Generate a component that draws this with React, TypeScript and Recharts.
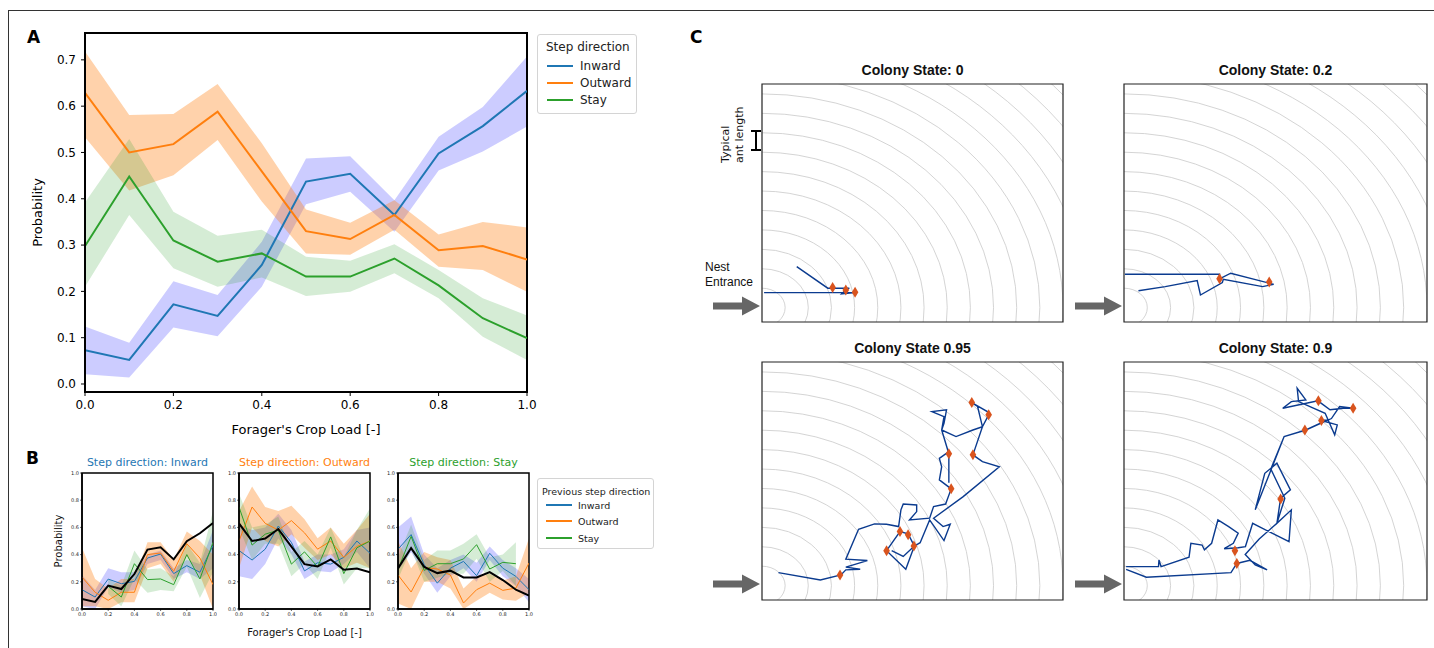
import {
  Area,
  ComposedChart,
  Legend,
  Line,
  ReferenceArea,
  Scatter,
  ScatterChart,
  XAxis,
  YAxis,
} from "recharts";

// ---- panel A: step direction vs crop load ----
const cropLoad = [0, 0.1, 0.2, 0.3, 0.4, 0.5, 0.6, 0.7, 0.8, 0.9, 1.0];
const loadTicks = [0, 0.2, 0.4, 0.6, 0.8, 1.0];
const probTicksA = [0, 0.1, 0.2, 0.3, 0.4, 0.5, 0.6, 0.7];
const probTicksB = [0, 0.2, 0.4, 0.6, 0.8, 1.0];

const inwardMean = [0.073, 0.052, 0.172, 0.147, 0.257, 0.437, 0.454, 0.365, 0.498, 0.557, 0.633];
const inwardLow = [0.021, 0.014, 0.122, 0.103, 0.21, 0.388, 0.415, 0.329, 0.461, 0.502, 0.556];
const inwardHigh = [0.124, 0.089, 0.222, 0.192, 0.307, 0.487, 0.492, 0.397, 0.534, 0.598, 0.707];
const outwardMean = [0.629, 0.5, 0.518, 0.588, 0.459, 0.33, 0.313, 0.365, 0.289, 0.298, 0.269];
const outwardLow = [0.533, 0.418, 0.451, 0.527, 0.394, 0.282, 0.279, 0.333, 0.253, 0.246, 0.199];
const outwardHigh = [0.718, 0.581, 0.583, 0.648, 0.52, 0.377, 0.348, 0.397, 0.323, 0.35, 0.338];
const stayMean = [0.298, 0.448, 0.31, 0.264, 0.282, 0.232, 0.232, 0.271, 0.213, 0.142, 0.099];
const stayLow = [0.21, 0.365, 0.25, 0.21, 0.23, 0.19, 0.199, 0.239, 0.185, 0.102, 0.052];
const stayHigh = [0.392, 0.529, 0.372, 0.32, 0.333, 0.275, 0.266, 0.302, 0.246, 0.185, 0.148];

// ---- panel B: split by previous step direction ----
const inPrevInMean = [0.142, 0.088, 0.22, 0.186, 0.203, 0.375, 0.404, 0.26, 0.319, 0.27, 0.466];
const inPrevInLow = [0.02, 0.0, 0.16, 0.12, 0.14, 0.33, 0.36, 0.22, 0.27, 0.22, 0.3];
const inPrevInHigh = [0.25, 0.14, 0.3, 0.27, 0.27, 0.4, 0.43, 0.3, 0.36, 0.33, 0.58];
const inPrevOutMean = [0.235, 0.123, 0.064, 0.123, 0.123, 0.4, 0.412, 0.277, 0.48, 0.375, 0.179];
const inPrevOutLow = [0.02, 0.02, 0.0, 0.05, 0.05, 0.3, 0.33, 0.2, 0.39, 0.25, 0.0];
const inPrevOutHigh = [0.45, 0.22, 0.15, 0.22, 0.22, 0.49, 0.49, 0.36, 0.57, 0.5, 0.4];
const inPrevStayMean = [null, null, 0.167, 0.088, 0.333, 0.216, 0.221, 0.179, 0.4, 0.221, 0.49];
const inPrevStayLow = [null, null, 0.11, 0.02, 0.22, 0.12, 0.14, 0.13, 0.31, 0.08, 0.27];
const inPrevStayHigh = [null, null, 0.22, 0.17, 0.43, 0.29, 0.3, 0.24, 0.48, 0.34, 0.72];

const outPrevInMean = [0.43, 0.36, 0.44, 0.61, 0.49, 0.28, 0.34, 0.33, 0.38, 0.5, 0.41];
const outPrevInLow = [0.24, 0.22, 0.33, 0.52, 0.4, 0.22, 0.28, 0.27, 0.33, 0.42, 0.3];
const outPrevInHigh = [0.62, 0.58, 0.6, 0.7, 0.58, 0.35, 0.4, 0.4, 0.44, 0.58, 0.6];
const outPrevOutMean = [0.5, 0.75, 0.63, 0.58, 0.65, 0.56, 0.44, 0.5, 0.38, 0.46, 0.5];
const outPrevOutLow = [0.3, 0.6, 0.5, 0.46, 0.55, 0.45, 0.36, 0.4, 0.3, 0.34, 0.3];
const outPrevOutHigh = [0.72, 0.9, 0.75, 0.72, 0.76, 0.66, 0.52, 0.6, 0.48, 0.58, 0.7];
const outPrevStayMean = [0.75, 0.47, 0.55, 0.58, 0.33, 0.42, 0.31, 0.53, 0.26, 0.45, 0.5];
const outPrevStayLow = [0.6, 0.36, 0.48, 0.48, 0.24, 0.33, 0.22, 0.45, 0.18, 0.3, 0.3];
const outPrevStayHigh = [0.85, 0.6, 0.62, 0.68, 0.42, 0.5, 0.4, 0.6, 0.38, 0.58, 0.74];

const stayPrevInMean = [0.44, 0.547, 0.326, 0.19, 0.3, 0.35, 0.245, 0.41, 0.3, 0.24, 0.142];
const stayPrevInLow = [0.28, 0.42, 0.26, 0.12, 0.24, 0.3, 0.2, 0.36, 0.24, 0.17, 0.05];
const stayPrevInHigh = [0.6, 0.68, 0.4, 0.3, 0.36, 0.4, 0.34, 0.46, 0.36, 0.3, 0.22];
const stayPrevOutMean = [0.25, 0.125, 0.306, 0.294, 0.25, 0.044, 0.142, 0.19, 0.137, 0.154, 0.338];
const stayPrevOutLow = [0.04, 0.0, 0.2, 0.2, 0.15, 0.0, 0.06, 0.12, 0.07, 0.06, 0.12];
const stayPrevOutHigh = [0.5, 0.3, 0.42, 0.38, 0.36, 0.15, 0.24, 0.26, 0.21, 0.24, 0.52];
const stayPrevStayMean = [0.29, 0.534, 0.284, 0.333, 0.333, 0.368, 0.473, 0.294, 0.343, 0.333, null];
const stayPrevStayLow = [0.22, 0.44, 0.2, 0.23, 0.26, 0.26, 0.37, 0.2, 0.28, 0.17, null];
const stayPrevStayHigh = [0.38, 0.62, 0.36, 0.43, 0.43, 0.48, 0.55, 0.38, 0.4, 0.49, null];

// ---- panel C: trajectories, in ant lengths from the nest entrance ----
const ringRadii = [1, 2, 3, 4, 5, 6, 7, 8, 9, 10, 11, 12, 13, 14, 15, 16, 17];

const trackState0 = [[0.09, 0.77], [4.02, 0.77], [3.44, 0.71], [3.62, 0.91], [3.77, 1.0], [2.84, 1.0], [1.5, 2.11]];
const marksState0 = [[3.05, 1.03], [3.62, 0.91], [4.02, 0.79]];

const trackState02 = [
  [0.04, 1.72], [4.1, 1.72], [4.1, 1.48], [4.58, 1.77], [6.42, 1.2], [5.95, 1.08], [4.26, 1.46],
  [4.22, 1.29], [3.28, 0.65], [3.14, 1.39], [1.77, 1.08], [0.62, 0.87],
];
const marksState02 = [[4.1, 1.48], [6.23, 1.32]];

const trackState095 = [
  [0.71, 0.67], [2.52, 0.29], [3.41, 0.55], [3.62, 0.81], [4.24, 0.84], [3.62, 0.95], [4.55, 1.29],
  [3.62, 1.36], [4.17, 2.9], [4.86, 3.18], [5.38, 3.16], [5.9, 3.04], [6.0, 3.9], [6.1, 4.2],
  [6.68, 4.15], [6.68, 3.81], [6.37, 3.38], [7.24, 3.47], [7.41, 4.07], [7.93, 4.2], [8.17, 4.98],
  [7.66, 5.44], [7.76, 6.12], [7.66, 6.55], [8.07, 6.9], [8.07, 5.3], [8.07, 6.79], [7.76, 8.01],
  [7.86, 8.36], [7.97, 9.05], [7.34, 8.96], [7.86, 8.7], [7.76, 8.01], [8.38, 7.67], [9.11, 8.01],
  [9.52, 8.18], [9.31, 9.22], [9.06, 9.42], [9.73, 8.96], [9.79, 8.79], [9.52, 8.18], [9.11, 6.73],
  [9.52, 6.38], [10.25, 6.12], [8.69, 4.58], [7.41, 3.47], [7.82, 3.04], [8.13, 3.16], [7.86, 2.32],
  [7.24, 3.38], [6.83, 2.21], [6.58, 2.04], [6.31, 2.66], [5.96, 2.78], [5.38, 1.8], [6.21, 0.84],
  [6.58, 2.04], [6.1, 1.5], [5.6, 1.8],
];
const marksState095 = [
  [3.37, 0.55], [5.38, 1.8], [5.96, 2.78], [6.31, 2.62], [6.56, 2.04], [8.17, 4.98],
  [8.07, 6.79], [9.11, 6.73], [9.06, 9.42], [9.79, 8.79],
];

const trackState09 = [
  [0.09, 0.98], [1.48, 0.98], [1.5, 1.32], [1.59, 0.98], [2.79, 1.46], [2.87, 2.18], [3.35, 2.09],
  [3.45, 1.84], [3.76, 2.18], [4.03, 3.38], [4.49, 3.04], [4.9, 2.7], [4.69, 2.18], [4.3, 1.9],
  [4.9, 1.95], [5.21, 2.01], [5.52, 3.21], [6.35, 2.7], [7.08, 2.26], [7.18, 3.9], [6.56, 3.21],
  [6.72, 4.5], [7.14, 4.93], [6.56, 6.3], [6.04, 5.78], [5.63, 3.9], [6.39, 6.21], [6.87, 7.67],
  [7.8, 8.01], [8.73, 8.53], [8.47, 8.5], [9.15, 8.27], [9.04, 7.76], [8.63, 8.87], [7.49, 9.47],
  [7.43, 10.16], [7.8, 9.56], [7.18, 9.47], [6.81, 9.13], [8.32, 9.51], [8.84, 9.05], [9.42, 9.13],
  [9.83, 9.13], [9.25, 9.22], [8.9, 8.6], [7.8, 8.01], [6.87, 7.67], [6.3, 6.0], [6.9, 4.5],
  [6.56, 3.21], [5.8, 2.4], [5.2, 1.6], [5.63, 1.06], [6.14, 0.81], [5.4, 1.3], [4.84, 1.14],
  [4.59, 0.67], [0.96, 0.43], [0.09, 0.84],
];
const marksState09 = [[4.76, 1.8], [4.84, 1.14], [6.72, 4.46], [7.76, 8.01], [8.47, 8.5], [8.34, 9.51], [9.83, 9.13]];

const SANS = "'DejaVu Sans', sans-serif";
const NARROW = "'Liberation Sans Narrow', 'Liberation Sans', Arial, sans-serif";
const BLUE = "#1f77b4";
const ORANGE = "#ff7f0e";
const GREEN = "#2ca02c";
const TRACK = "#0b3b8f";
const MARK = "#d9541e";

const stepItems = [
  { label: "Inward", color: BLUE },
  { label: "Outward", color: ORANGE },
  { label: "Stay", color: GREEN },
];

function Caption({ x, y, text, size, color = "#000", weight = 400, family = SANS, anchor = "middle" }: any) {
  return (
    <div
      style={{
        position: "absolute",
        left: x,
        top: y,
        transform: `translate(${anchor === "middle" ? "-50%" : "0"}, -50%)`,
        fontSize: size,
        fontWeight: weight,
        fontFamily: family,
        color,
        lineHeight: 1,
        whiteSpace: "nowrap",
      }}
    >
      {text}
    </div>
  );
}

function LegendBox({ title, w, h, fs, titleY, titleX, rowsY, lineX, textX }: any) {
  return (
    <div
      style={{
        position: "relative",
        width: w,
        height: h,
        background: "#fff",
        border: "1px solid #d4d4d4",
        borderRadius: 3,
        boxSizing: "border-box",
        fontFamily: SANS,
        fontSize: fs,
        color: "#222",
      }}
    >
      <div style={{ position: "absolute", left: titleX, top: titleY, transform: "translateY(-50%)", whiteSpace: "nowrap" }}>
        {title}
      </div>
      {stepItems.map((it, i) => (
        <div key={it.label}>
          <div style={{ position: "absolute", left: lineX, top: rowsY[i] - 1, width: 26, height: 2, background: it.color }} />
          <div style={{ position: "absolute", left: textX, top: rowsY[i], transform: "translateY(-50%)", whiteSpace: "nowrap" }}>
            {it.label}
          </div>
        </div>
      ))}
    </div>
  );
}

const aDomain: [number, number] = [-0.0173, 0.758];

function PanelA() {
  const rows = cropLoad.map((x, i) => ({
    x,
    inward: inwardMean[i],
    inwardBand: [inwardLow[i], inwardHigh[i]],
    outward: outwardMean[i],
    outwardBand: [outwardLow[i], outwardHigh[i]],
    stay: stayMean[i],
    stayBand: [stayLow[i], stayHigh[i]],
  }));
  const tick = { fill: "#000", fontSize: 12, fontFamily: SANS };
  return (
    <div style={{ position: "absolute", left: 20, top: 23 }}>
      <ComposedChart width={630} height={420} data={rows} margin={{ top: 10, right: 123, bottom: 6, left: 15 }}>
        <XAxis
          dataKey="x"
          type="number"
          domain={[0, 1]}
          allowDataOverflow
          ticks={loadTicks}
          tickFormatter={(v) => Number(v).toFixed(1)}
          tick={tick}
          tickSize={4}
          tickMargin={4}
          height={45}
          axisLine={{ stroke: "#000", strokeWidth: 2 }}
          tickLine={{ stroke: "#000" }}
          label={{ value: "Forager's Crop Load [-]", position: "insideBottom", offset: 3, fill: "#000", fontSize: 13, fontFamily: SANS }}
        />
        <YAxis
          type="number"
          domain={aDomain}
          allowDataOverflow
          ticks={probTicksA}
          tickFormatter={(v) => Number(v).toFixed(1)}
          tick={tick}
          tickSize={4}
          tickMargin={5}
          width={50}
          axisLine={{ stroke: "#000", strokeWidth: 2 }}
          tickLine={{ stroke: "#000" }}
          label={{ value: "Probability", angle: -90, position: "insideLeft", offset: 2, fill: "#000", fontSize: 13, fontFamily: SANS, style: { textAnchor: "middle" } }}
        />
        <Area type="linear" dataKey="inwardBand" fill="#0000ff" fillOpacity={0.2} stroke="none" isAnimationActive={false} />
        <Area type="linear" dataKey="outwardBand" fill={ORANGE} fillOpacity={0.35} stroke="none" isAnimationActive={false} />
        <Area type="linear" dataKey="stayBand" fill={GREEN} fillOpacity={0.2} stroke="none" isAnimationActive={false} />
        <Line type="linear" dataKey="inward" stroke={BLUE} strokeWidth={2} dot={false} isAnimationActive={false} />
        <Line type="linear" dataKey="outward" stroke={ORANGE} strokeWidth={2} dot={false} isAnimationActive={false} />
        <Line type="linear" dataKey="stay" stroke={GREEN} strokeWidth={2} dot={false} isAnimationActive={false} />
        <ReferenceArea x1={0} x2={1} y1={aDomain[0]} y2={aDomain[1]} fill="none" stroke="#000" strokeWidth={2} ifOverflow="visible" />
        <Legend
          verticalAlign="middle"
          layout="horizontal"
          wrapperStyle={{ left: 517, top: 11, width: 100, height: 80 }}
          content={() => (
            <LegendBox title="Step direction" w={100} h={80} fs={12} titleX={8} titleY={12} rowsY={[31, 48, 65]} lineX={9} textX={42} />
          )}
        />
      </ComposedChart>
    </div>
  );
}

function bandOf(lo: any[], hi: any[], i: number) {
  return lo[i] == null ? null : [lo[i], hi[i]];
}

function makeRows(overall: number[], m: any[][]) {
  return cropLoad.map((x, i) => ({
    x,
    overall: overall[i],
    prevIn: m[0][i],
    prevInBand: bandOf(m[1], m[2], i),
    prevOut: m[3][i],
    prevOutBand: bandOf(m[4], m[5], i),
    prevStay: m[6][i],
    prevStayBand: bandOf(m[7], m[8], i),
  }));
}

const bPanels = [
  {
    title: "Step direction: Inward",
    color: BLUE,
    plotLeft: 82,
    rows: makeRows(inwardMean, [inPrevInMean, inPrevInLow, inPrevInHigh, inPrevOutMean, inPrevOutLow, inPrevOutHigh, inPrevStayMean, inPrevStayLow, inPrevStayHigh]),
  },
  {
    title: "Step direction: Outward",
    color: ORANGE,
    plotLeft: 239,
    rows: makeRows(outwardMean, [outPrevInMean, outPrevInLow, outPrevInHigh, outPrevOutMean, outPrevOutLow, outPrevOutHigh, outPrevStayMean, outPrevStayLow, outPrevStayHigh]),
  },
  {
    title: "Step direction: Stay",
    color: GREEN,
    plotLeft: 398,
    rows: makeRows(stayMean, [stayPrevInMean, stayPrevInLow, stayPrevInHigh, stayPrevOutMean, stayPrevOutLow, stayPrevOutHigh, stayPrevStayMean, stayPrevStayLow, stayPrevStayHigh]),
  },
];

function SmallPanel({ p, idx }: any) {
  const plotW = 131;
  const plotH = 136;
  const plotTop = 473;
  const ml = idx === 0 ? 30 : 0;
  const mr = idx === 2 ? 130 : 4;
  const yw = 22;
  const tick = { fill: "#222", fontSize: 5, fontFamily: SANS };
  return (
    <>
      <Caption x={p.plotLeft + plotW / 2} y={462} text={p.title} size={11} color={p.color} />
      <div style={{ position: "absolute", left: p.plotLeft - yw - ml, top: plotTop - 4 }}>
        <ComposedChart width={ml + yw + plotW + mr} height={plotH + 4 + 30} data={p.rows} margin={{ top: 4, right: mr, bottom: 0, left: ml }}>
          <XAxis
            dataKey="x"
            type="number"
            domain={[0, 1]}
            allowDataOverflow
            ticks={loadTicks}
            tickFormatter={(v) => Number(v).toFixed(1)}
            tick={tick}
            tickSize={2}
            tickMargin={1}
            height={30}
            axisLine={{ stroke: "#000", strokeWidth: 1.5 }}
            tickLine={{ stroke: "#000", strokeWidth: 0.6 }}
            label={idx === 1 ? { value: "Forager's Crop Load [-]", position: "insideBottom", offset: 3, fill: "#111", fontSize: 10, fontFamily: SANS } : undefined}
          />
          <YAxis
            type="number"
            domain={[0, 1]}
            allowDataOverflow
            ticks={probTicksB}
            tickFormatter={(v) => Number(v).toFixed(1)}
            tick={tick}
            tickSize={2}
            tickMargin={1}
            width={yw}
            axisLine={{ stroke: "#000", strokeWidth: 1.5 }}
            tickLine={{ stroke: "#000", strokeWidth: 0.6 }}
            label={idx === 0 ? { value: "Probability", angle: -90, position: "insideLeft", offset: -2, fill: "#111", fontSize: 10, fontFamily: SANS, style: { textAnchor: "middle" } } : undefined}
          />
          <Area type="linear" dataKey="prevInBand" fill="#0000ff" fillOpacity={0.2} stroke="none" isAnimationActive={false} />
          <Area type="linear" dataKey="prevOutBand" fill={ORANGE} fillOpacity={0.35} stroke="none" isAnimationActive={false} />
          <Area type="linear" dataKey="prevStayBand" fill={GREEN} fillOpacity={0.2} stroke="none" isAnimationActive={false} />
          <Line type="linear" dataKey="prevIn" stroke={BLUE} strokeWidth={1} dot={false} isAnimationActive={false} />
          <Line type="linear" dataKey="prevOut" stroke={ORANGE} strokeWidth={1} dot={false} isAnimationActive={false} />
          <Line type="linear" dataKey="prevStay" stroke={GREEN} strokeWidth={1} dot={false} isAnimationActive={false} />
          <Line type="linear" dataKey="overall" stroke="#000" strokeWidth={2} dot={false} isAnimationActive={false} />
          <ReferenceArea x1={0} x2={1} y1={0} y2={1} fill="none" stroke="#000" strokeWidth={1.5} ifOverflow="visible" />
          {idx === 2 && (
            <Legend
              verticalAlign="middle"
              layout="horizontal"
              wrapperStyle={{ left: 161, top: 9, width: 117, height: 71 }}
              content={() => (
                <LegendBox title="Previous step direction" w={117} h={71} fs={9.5} titleX={4} titleY={11.5} rowsY={[25.5, 42, 58.5]} lineX={8} textX={40} />
              )}
            />
          )}
        </ComposedChart>
      </div>
    </>
  );
}

const cXDomain: [number, number] = [0, 13];
const cYDomain: [number, number] = [-0.74, 11.51];

const ringShape = (p: any) => (
  <ellipse
    cx={p.x + p.width / 2}
    cy={p.y + p.height / 2}
    rx={Math.abs(p.width) / 2}
    ry={Math.abs(p.height) / 2}
    fill="none"
    stroke="#c9c9c9"
    strokeWidth={0.8}
    clipPath={p.clipPath}
  />
);

const noDot = () => <g />;

const diamond = (p: any) => (
  <polygon
    points={`${p.cx},${p.cy - 5.5} ${p.cx + 3.3},${p.cy} ${p.cx},${p.cy + 5.5} ${p.cx - 3.3},${p.cy}`}
    fill={MARK}
  />
);

const cPanels = [
  { title: "Colony State: 0", left: 762, top: 84, width: 301, track: trackState0, marks: marksState0 },
  { title: "Colony State: 0.2", left: 1124, top: 84, width: 303, track: trackState02, marks: marksState02 },
  { title: "Colony State 0.95", left: 762, top: 362, width: 301, track: trackState095, marks: marksState095 },
  { title: "Colony State: 0.9", left: 1124, top: 362, width: 303, track: trackState09, marks: marksState09 },
];

function TrackPanel({ p }: any) {
  const height = 238;
  const toPts = (arr: number[][]) => arr.map(([x, y]) => ({ x, y }));
  return (
    <>
      <Caption x={p.left + p.width / 2} y={p.top - 14} text={p.title} size={14} weight={700} family={NARROW} color="#111" />
      <div style={{ position: "absolute", left: p.left - 1, top: p.top - 1 }}>
        <ScatterChart width={p.width + 2} height={height + 2} margin={{ top: 1, right: 1, bottom: 1, left: 1 }}>
          <XAxis type="number" dataKey="x" domain={cXDomain} allowDataOverflow hide />
          <YAxis type="number" dataKey="y" domain={cYDomain} allowDataOverflow hide />
          {ringRadii.map((r) => (
            <ReferenceArea key={r} x1={-r} x2={r} y1={-r} y2={r} ifOverflow="hidden" shape={ringShape} />
          ))}
          <Scatter data={toPts(p.track)} line={{ stroke: TRACK, strokeWidth: 1.4 }} lineType="joint" shape={noDot} isAnimationActive={false} />
          <Scatter data={toPts(p.marks)} shape={diamond} isAnimationActive={false} />
          <ReferenceArea x1={cXDomain[0]} x2={cXDomain[1]} y1={cYDomain[0]} y2={cYDomain[1]} fill="none" stroke="#222" strokeWidth={1.2} ifOverflow="visible" />
        </ScatterChart>
      </div>
    </>
  );
}

function Arrow({ tipX, y }: { tipX: number; y: number }) {
  return (
    <polygon
      points={`${tipX - 47},${y - 3.5} ${tipX - 18},${y - 3.5} ${tipX - 18},${y - 9.5} ${tipX},${y} ${tipX - 18},${y + 9.5} ${tipX - 18},${y + 3.5} ${tipX - 47},${y + 3.5}`}
      fill="#666"
    />
  );
}

export default function App() {
  return (
    <div style={{ position: "absolute", left: 0, top: 0, width: 1434, height: 648, background: "#fff", overflow: "hidden" }}>
      <div style={{ position: "absolute", left: 8, top: 10, width: 1440, height: 660, borderLeft: "1px solid #333", borderTop: "1px solid #333" }} />

      <Caption x={27} y={37} text="A" size={17} weight={700} anchor="start" />
      <Caption x={26} y={458} text="B" size={17} weight={700} anchor="start" />
      <Caption x={690} y={37} text="C" size={17} weight={700} anchor="start" />

      <PanelA />
      {bPanels.map((p, i) => (
        <SmallPanel key={p.title} p={p} idx={i} />
      ))}
      {cPanels.map((p) => (
        <TrackPanel key={p.title} p={p} />
      ))}

      <Caption x={705} y={267} text="Nest" size={12} family="'Liberation Sans', Arial, sans-serif" color="#111" anchor="start" />
      <Caption x={705} y={282} text="Entrance" size={12} family="'Liberation Sans', Arial, sans-serif" color="#111" anchor="start" />

      <svg width={1434} height={648} style={{ position: "absolute", left: 0, top: 0, pointerEvents: "none" }}>
        <Arrow tipX={760} y={306} />
        <Arrow tipX={1122} y={306} />
        <Arrow tipX={760} y={584} />
        <Arrow tipX={1122} y={584} />
        <g stroke="#000" strokeWidth={2}>
          <line x1={756} y1={131} x2={756} y2={150} />
          <line x1={751} y1={131} x2={761} y2={131} />
          <line x1={751} y1={150} x2={761} y2={150} />
        </g>
        <text transform="translate(729,163) rotate(-90)" fontFamily={SANS} fontSize={11} fill="#111">
          Typical
        </text>
        <text transform="translate(743,163) rotate(-90)" fontFamily={SANS} fontSize={11} fill="#111">
          ant length
        </text>
      </svg>
    </div>
  );
}
